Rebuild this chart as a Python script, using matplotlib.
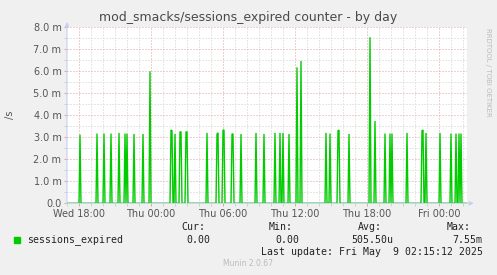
import numpy as np
import pandas as pd
import matplotlib
matplotlib.use('Agg')
import matplotlib.pyplot as plt
import matplotlib.dates as mdates
from matplotlib.ticker import FuncFormatter, MultipleLocator

# ===================== 数据 =====================
start_time = '2025-05-07 17:00'
end_time = '2025-05-09 02:20'

# 5 分钟采样点上的尖峰（其余时刻为 0）
spike_times = [
    '05-07 18:05', '05-07 19:30', '05-07 20:05', '05-07 20:40', '05-07 21:20',
    '05-07 21:50', '05-07 22:00', '05-07 22:35', '05-07 23:20', '05-07 23:55',
    '05-08 01:40', '05-08 01:45', '05-08 02:00', '05-08 02:25', '05-08 02:30',
    '05-08 02:55', '05-08 03:00', '05-08 04:40', '05-08 05:30', '05-08 05:35',
    '05-08 06:00', '05-08 06:05', '05-08 06:45', '05-08 06:50', '05-08 07:30',
    '05-08 08:45', '05-08 09:25', '05-08 10:20', '05-08 10:45', '05-08 11:00',
    '05-08 11:30', '05-08 12:10', '05-08 12:30', '05-08 14:35', '05-08 14:55',
    '05-08 15:35', '05-08 15:40', '05-08 16:30', '05-08 18:15', '05-08 18:40',
    '05-08 19:30', '05-08 19:55', '05-08 20:05', '05-08 21:20', '05-08 22:35',
    '05-08 22:40', '05-08 22:55', '05-09 00:05', '05-09 01:00', '05-09 01:25',
    '05-09 01:40', '05-09 01:50',
]
spike_values = [  # 单位 m/s
    3.12, 3.17, 3.17, 3.17, 3.20,
    3.17, 3.17, 3.15, 3.15, 6.00,
    3.33, 3.30, 3.15, 3.25, 3.25,
    3.25, 3.25, 3.20, 3.15, 3.20,
    3.33, 3.33, 3.15, 3.15, 3.15,
    3.20, 3.15, 3.20, 3.20, 3.20,
    3.15, 6.18, 6.47, 3.20, 3.17,
    3.30, 3.33, 3.15, 7.55, 3.74,
    3.17, 3.17, 3.17, 3.20, 3.30,
    3.33, 3.20, 3.20, 3.17, 3.17,
    3.17, 3.17,
]

legend_name = 'sessions_expired'
stat_labels = ['Cur:', 'Min:', 'Avg:', 'Max:']
stat_values = ['0.00', '0.00', '505.50u', '7.55m']
last_update = 'Last update: Fri May  9 02:15:12 2025'

# ===================== 构造序列 =====================
idx = pd.date_range(start_time, end_time, freq='5min')
series = pd.Series(0.0, index=idx)
for t, v in zip(spike_times, spike_values):
    series[pd.Timestamp('2025-' + t)] = v * 1e-3

# ===================== 绘图 =====================
W, H = 497, 275
BG = '#F0F0F0'
GREEN = '#00CC00'
MAJOR = '#E6A0A0'
MINOR = '#CFCFCF'
AXIS = '#C8CFF2'
TXT = '#555555'

plt.rcParams['lines.scale_dashes'] = False
fig = plt.figure(figsize=(W / 100, H / 100), dpi=100, facecolor=BG)

px_l, px_r, px_t, px_b = 67, 467, 27.3, 203.3
ax = fig.add_axes([px_l / W, 1 - px_b / H, (px_r - px_l) / W, (px_b - px_t) / H])
ax.set_facecolor('white')
for s in ax.spines.values():
    s.set_visible(False)

x0, x1 = pd.Timestamp(start_time), pd.Timestamp(end_time)
ax.set_xlim(x0, x1)
ax.set_ylim(0, 8e-3)

# 网格
dot = (0, (0.72, 1.44))
for h in pd.date_range('2025-05-07 18:00', end_time, freq='1h'):
    col = MAJOR if h.hour % 6 == 0 else MINOR
    ax.axvline(h, color=col, lw=0.72, ls=dot, zorder=1)
for v in np.arange(0.5, 8.01, 0.5):
    col = MAJOR if abs(v - round(v)) < 1e-9 else MINOR
    ax.axhline(v * 1e-3, color=col, lw=0.72, ls=dot, zorder=1)

# 坐标轴线和箭头
ax.annotate('', xy=(1.017, 0), xytext=(0, 0), xycoords='axes fraction',
            arrowprops=dict(arrowstyle='-|>', color=AXIS, lw=0.8,
                            mutation_scale=6, shrinkA=0, shrinkB=0),
            annotation_clip=False, zorder=2)
ax.annotate('', xy=(0, 1.03), xytext=(0, 0), xycoords='axes fraction',
            arrowprops=dict(arrowstyle='-|>', color=AXIS, lw=0.8,
                            mutation_scale=6, shrinkA=0, shrinkB=0),
            annotation_clip=False, zorder=2)

ax.plot(series.index, series.values, color=GREEN, lw=1.0, zorder=3,
        solid_joinstyle='miter')

# 刻度
ax.xaxis.set_major_locator(mdates.HourLocator(byhour=[0, 6, 12, 18]))
ax.xaxis.set_major_formatter(mdates.DateFormatter('%a %H:%M'))
ax.xaxis.set_minor_locator(mdates.HourLocator())
ax.yaxis.set_major_locator(MultipleLocator(1e-3))
ax.yaxis.set_minor_locator(MultipleLocator(0.5e-3))
ax.yaxis.set_major_formatter(FuncFormatter(
    lambda v, p: '0.0' if v == 0 else f'{v * 1000:.1f} m'))
ax.tick_params(which='major', length=2, width=0.7, color=MAJOR,
               labelsize=7, labelcolor=TXT, pad=2)
ax.tick_params(which='minor', length=2, width=0.7, color=MINOR)

fig.text(248.5 / W, 1 - 17 / H, 'mod_smacks/sessions_expired counter - by day',
         ha='center', va='center', fontsize=9, color='#4a4a4a')
fig.text(10 / W, 1 - 115 / H, '/s', rotation=90, ha='center', va='center',
         fontsize=7, color=TXT)
fig.text(488 / W, 1 - 72 / H, 'RRDTOOL / TOBI OETIKER', rotation=270,
         ha='center', va='center', fontsize=5, color='#BBBBBB')

# 图例
mono = 'DejaVu Sans Mono'
fs = 7.1
fig.patches.append(plt.Rectangle((14 / W, 1 - 242.5 / H), 6 / W, 6 / H,
                                 transform=fig.transFigure, color=GREEN))
fig.text(26.7 / W, 1 - 240 / H, legend_name, family=mono, fontsize=fs,
         color='#222222', va='center')
lab_x = [181.7, 269, 358, 446.7]
val_right = [210.7, 299.3, 393, 482.7]
for lx, vr, lab, val in zip(lab_x, val_right, stat_labels, stat_values):
    fig.text(lx / W, 1 - 227.3 / H, lab, family=mono, fontsize=fs,
             color='#222222', va='center')
    fig.text(vr / W, 1 - 240 / H, val, family=mono, fontsize=fs,
             color='#222222', va='center', ha='right')
fig.text(482.7 / W, 1 - 251.7 / H, last_update, family=mono, fontsize=fs,
         color='#222222', va='center', ha='right')
fig.text(248 / W, 1 - 263.3 / H, 'Munin 2.0.67', fontsize=5.5,
         color='#BBBBBB', ha='center', va='center')

fig.savefig('out.png', dpi=100, facecolor=BG)
